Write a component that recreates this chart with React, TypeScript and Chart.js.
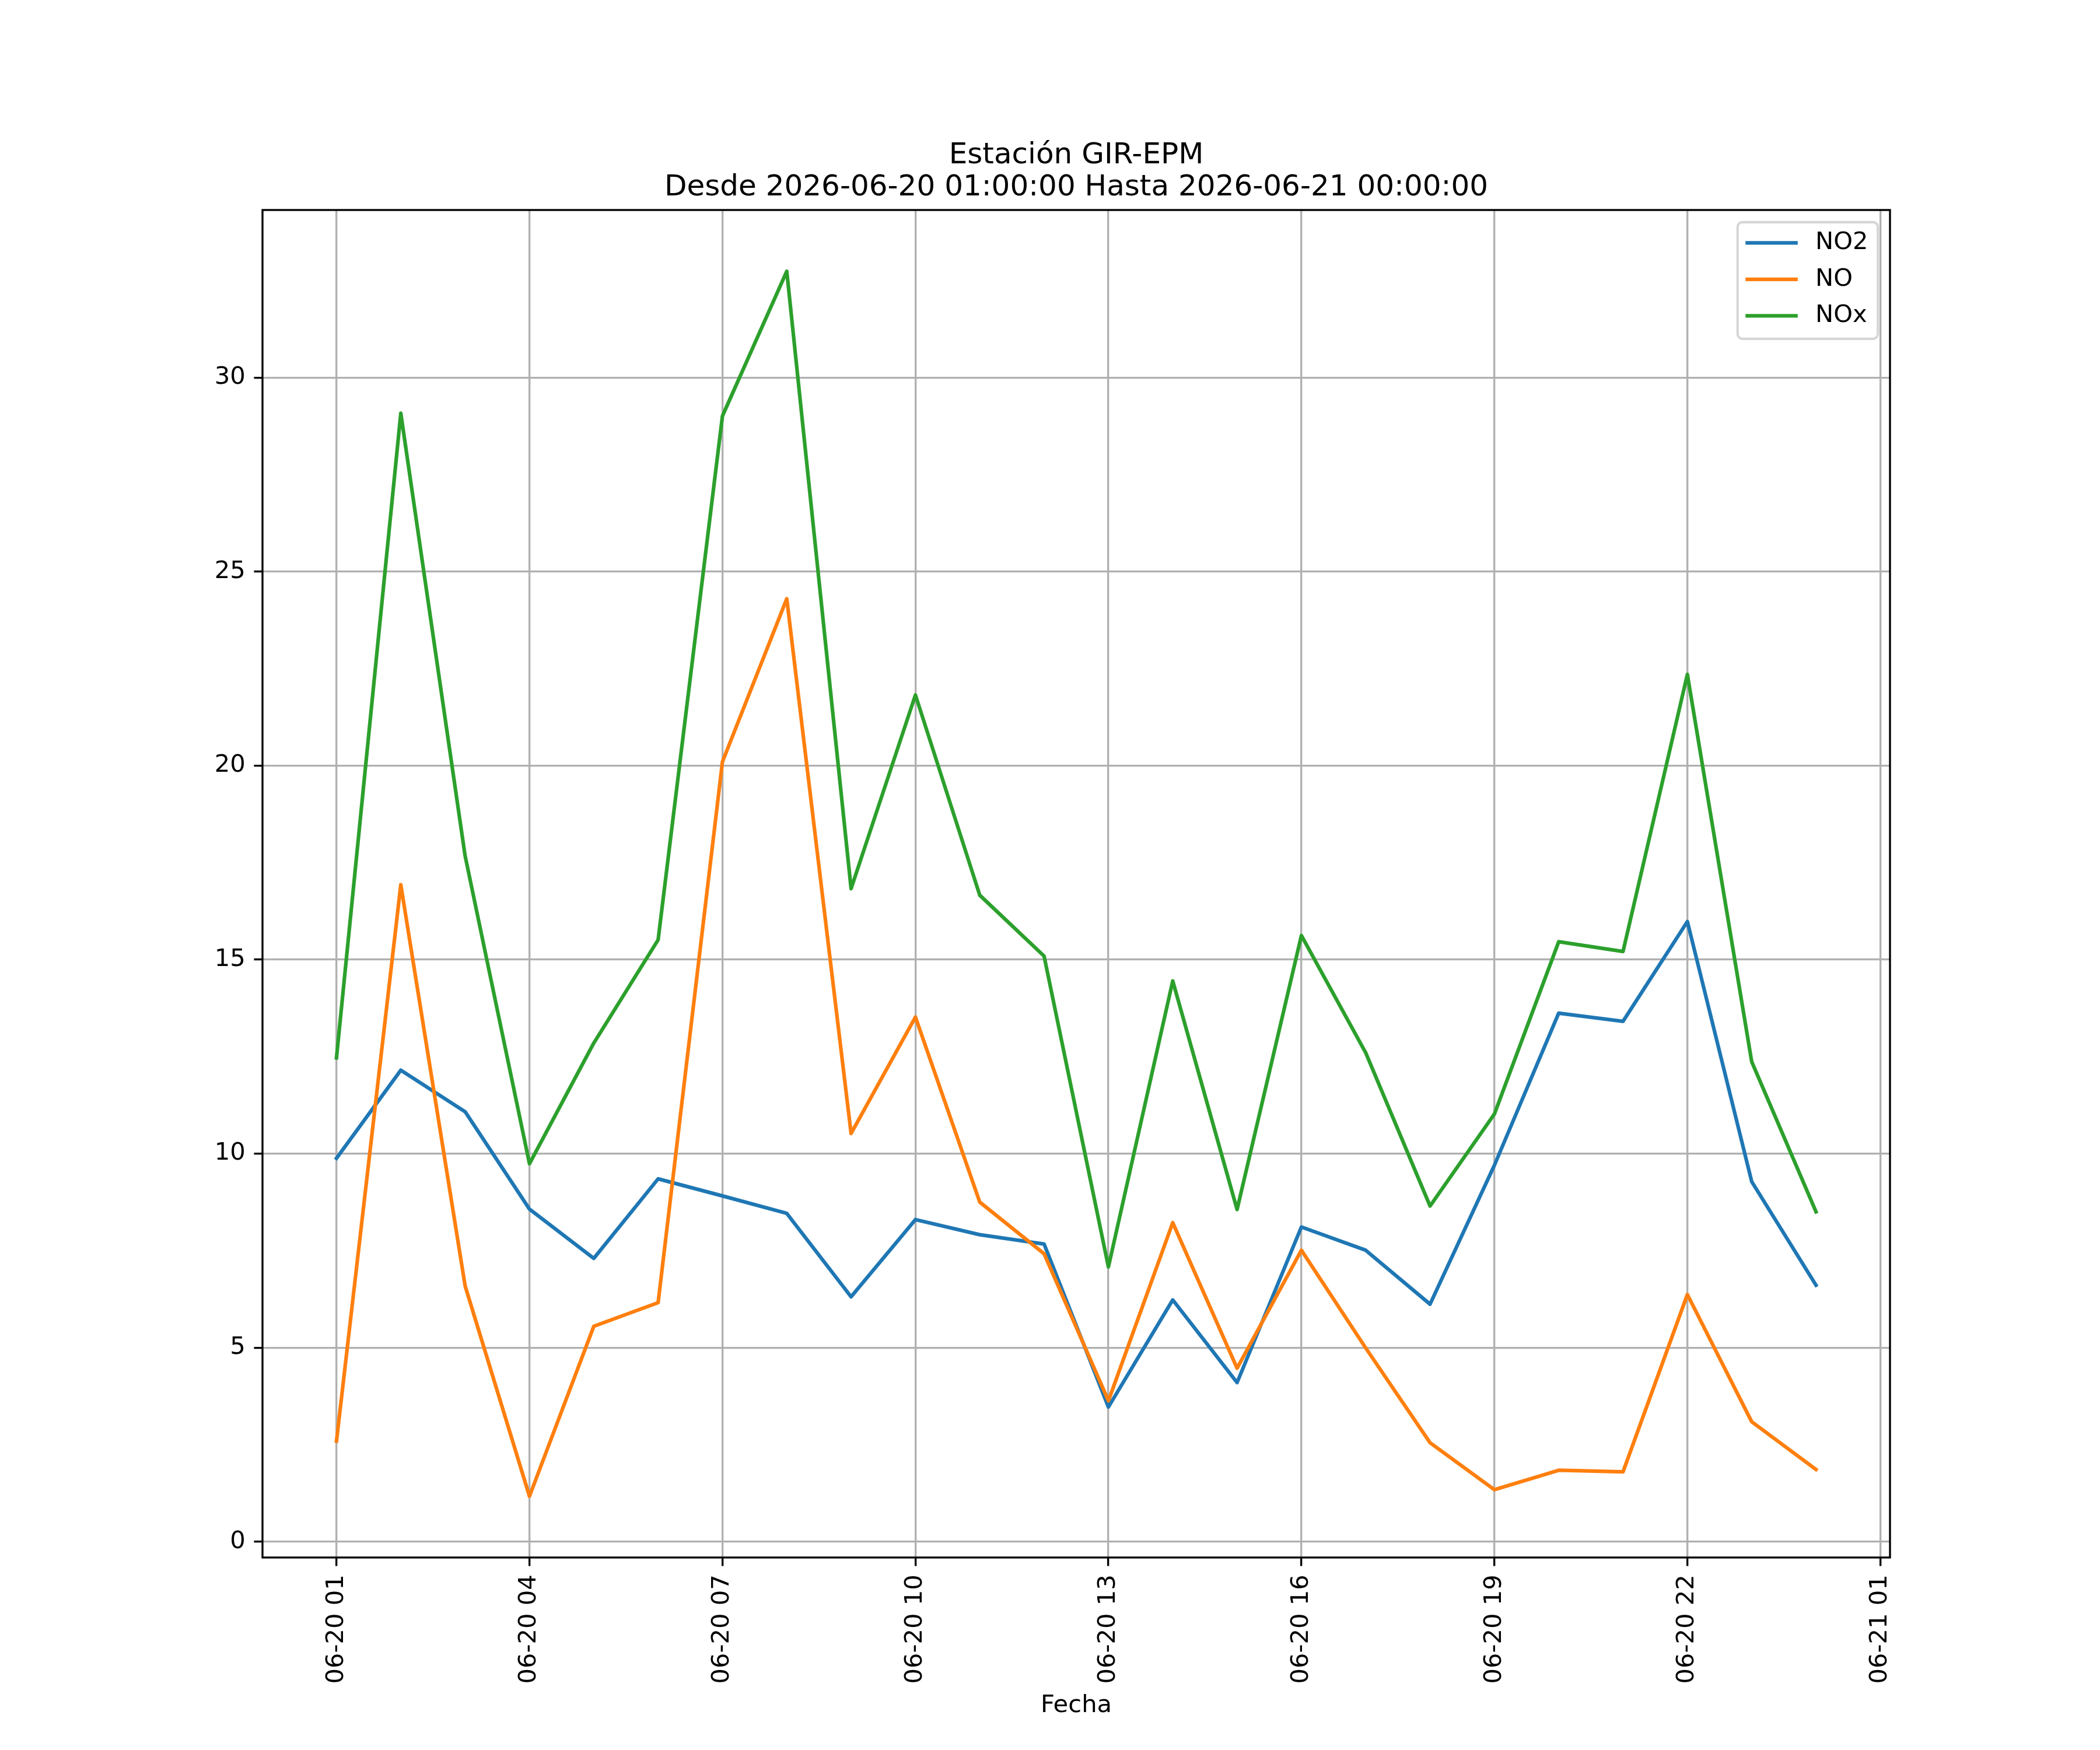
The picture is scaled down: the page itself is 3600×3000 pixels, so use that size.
import { useEffect, useRef } from "react"
import { Chart, registerables } from "chart.js"

Chart.register(...registerables)

// horas desde 2026-06-20 00:00 (24 = 2026-06-21 00:00)
const hours = [1, 2, 3, 4, 5, 6, 7, 8, 9, 10, 11, 12, 13, 14, 15, 16, 17, 18, 19, 20, 21, 22, 23, 24]

const no2Values = [
  9.88, 12.15, 11.08, 8.57, 7.3, 9.35, 8.91, 8.46, 6.31, 8.3, 7.91, 7.67, 3.47, 6.23, 4.1, 8.11,
  7.51, 6.12, 9.7, 13.62, 13.41, 15.98, 9.28, 6.61,
]
const noValues = [
  2.59, 16.93, 6.59, 1.17, 5.55, 6.16, 20.1, 24.3, 10.52, 13.52, 8.75, 7.42, 3.63, 8.22, 4.47,
  7.51, 4.99, 2.55, 1.34, 1.84, 1.8, 6.37, 3.09, 1.86,
]
const noxValues = [
  12.47, 29.08, 17.67, 9.74, 12.85, 15.51, 29.01, 32.74, 16.83, 21.82, 16.66, 15.09, 7.08, 14.45,
  8.56, 15.62, 12.6, 8.65, 11.02, 15.46, 15.21, 22.35, 12.37, 8.5,
]

const xTickHours = [1, 4, 7, 10, 13, 16, 19, 22, 25]
const xTickLabels = [
  "06-20 01",
  "06-20 04",
  "06-20 07",
  "06-20 10",
  "06-20 13",
  "06-20 16",
  "06-20 19",
  "06-20 22",
  "06-21 01",
]
const yTicks = [0, 5, 10, 15, 20, 25, 30]

const titleLines = ["Estación GIR-EPM", "Desde 2026-06-20 01:00:00 Hasta 2026-06-21 00:00:00"]
const xTitle = "Fecha"

// 300 dpi: 1pt = 300/72 px
const PT = 300 / 72
const FONT = '"DejaVu Sans"'

const mplDecor = {
  id: "mplDecor",
  afterDatasetsDraw(chart: Chart) {
    const { ctx, chartArea: a } = chart
    ctx.save()

    // marco de los ejes
    ctx.strokeStyle = "#000"
    ctx.lineWidth = 0.8 * PT
    ctx.strokeRect(a.left, a.top, a.right - a.left, a.bottom - a.top)

    // título
    ctx.fillStyle = "#000"
    ctx.font = `${12 * PT}px ${FONT}`
    ctx.textAlign = "center"
    ctx.textBaseline = "alphabetic"
    const cx = (a.left + a.right) / 2
    const base = a.top - 6 * PT
    ctx.fillText(titleLines[1], cx, base)
    ctx.fillText(titleLines[0], cx, base - 55)

    // leyenda (arriba a la derecha)
    const fs = 10 * PT
    ctx.font = `${fs}px ${FONT}`
    const sets = chart.data.datasets
    const textW = Math.max(...sets.map((d) => ctx.measureText(String(d.label)).width))
    const pad = 0.4 * fs
    const hl = 2 * fs
    const htp = 0.8 * fs
    const ls = 0.5 * fs
    const bap = 0.5 * fs
    const w = 2 * pad + hl + htp + textW
    const h = 2 * pad + sets.length * fs + (sets.length - 1) * ls
    const right = a.right - bap
    const top = a.top + bap
    const left = right - w

    ctx.beginPath()
    ctx.roundRect(left, top, w, h, 0.2 * fs)
    ctx.fillStyle = "rgba(255,255,255,0.8)"
    ctx.fill()
    ctx.strokeStyle = "rgba(204,204,204,0.8)"
    ctx.lineWidth = 1.0 * PT
    ctx.stroke()

    sets.forEach((d, i) => {
      const y = top + pad + fs / 2 - 2 + i * (fs + ls)
      ctx.beginPath()
      ctx.strokeStyle = d.borderColor as string
      ctx.lineWidth = 1.5 * PT
      ctx.lineCap = "square"
      ctx.moveTo(left + pad, y)
      ctx.lineTo(left + pad + hl, y)
      ctx.stroke()
      ctx.fillStyle = "#000"
      ctx.textAlign = "left"
      ctx.textBaseline = "middle"
      ctx.fillText(String(d.label), left + pad + hl + htp, y)
    })

    ctx.restore()
  },
}

export default function App() {
  const canvasRef = useRef<HTMLCanvasElement>(null)
  const chartRef = useRef<Chart | null>(null)

  useEffect(() => {
    document.body.style.margin = "0"
    if (!canvasRef.current) return
    if (chartRef.current) chartRef.current.destroy()

    const all = [...no2Values, ...noValues, ...noxValues]
    const yLo = Math.min(...all)
    const yHi = Math.max(...all)
    const yM = (yHi - yLo) * 0.05
    const xLo = hours[0]
    const xHi = hours[hours.length - 1]
    const xM = (xHi - xLo) * 0.05

    const toPoints = (vals: number[]) => vals.map((v, i) => ({ x: hours[i], y: v }))

    const lineStyle = {
      borderWidth: 1.5 * PT,
      pointRadius: 0,
      pointHoverRadius: 0,
      tension: 0,
      fill: false,
      borderJoinStyle: "round" as const,
      borderCapStyle: "square" as const,
    }

    const gridStyle = {
      color: "#b0b0b0",
      lineWidth: 0.8 * PT,
      drawTicks: true,
      tickLength: 3.5 * PT,
      tickColor: "#000",
      tickWidth: 0.8 * PT,
    }

    const tickFont = { family: "DejaVu Sans", size: 10 * PT }

    chartRef.current = new Chart(canvasRef.current, {
      type: "line",
      data: {
        datasets: [
          { label: "NO2", data: toPoints(no2Values), borderColor: "#1f77b4", order: 2, ...lineStyle },
          { label: "NO", data: toPoints(noValues), borderColor: "#ff7f0e", order: 1, ...lineStyle },
          { label: "NOx", data: toPoints(noxValues), borderColor: "#2ca02c", order: 0, ...lineStyle },
        ],
      },
      options: {
        responsive: false,
        devicePixelRatio: 1,
        animation: false,
        layout: { padding: { left: 0, top: 360, right: 360, bottom: 0 } },
        plugins: {
          legend: { display: false },
          tooltip: { enabled: false },
          title: { display: false },
        },
        scales: {
          x: {
            type: "linear",
            min: xLo - xM,
            max: xHi + xM,
            grid: gridStyle,
            border: { display: false },
            afterBuildTicks: (scale) => {
              scale.ticks = xTickHours.map((v) => ({ value: v }))
            },
            afterFit: (scale) => {
              scale.height = 330
            },
            ticks: {
              autoSkip: false,
              minRotation: 90,
              maxRotation: 90,
              padding: 3.5 * PT,
              color: "#000",
              font: tickFont,
              callback: (_value, index) => xTickLabels[index],
            },
            title: {
              display: true,
              text: xTitle,
              color: "#000",
              font: tickFont,
              padding: { top: 0, bottom: 51 },
            },
          },
          y: {
            type: "linear",
            min: yLo - yM,
            max: yHi + yM,
            grid: gridStyle,
            border: { display: false },
            afterBuildTicks: (scale) => {
              scale.ticks = yTicks.map((v) => ({ value: v }))
            },
            afterFit: (scale) => {
              scale.width = 450
            },
            ticks: {
              padding: 3.5 * PT,
              color: "#000",
              font: tickFont,
            },
          },
        },
      },
      plugins: [mplDecor],
    })

    return () => {
      if (chartRef.current) {
        chartRef.current.destroy()
        chartRef.current = null
      }
    }
  }, [])

  return (
    <div style={{ position: "absolute", left: 0, top: 0, width: 3600, height: 3000, background: "#fff" }}>
      <canvas ref={canvasRef} width={3600} height={3000} style={{ width: 3600, height: 3000 }} />
    </div>
  )
}
